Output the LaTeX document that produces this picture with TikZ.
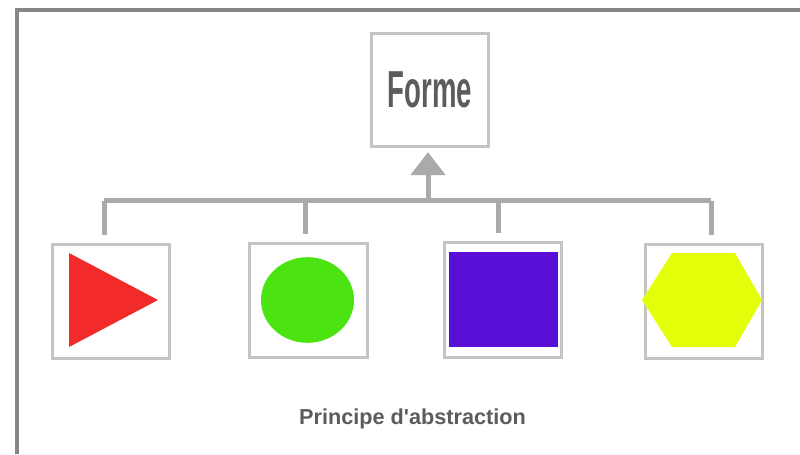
\documentclass[tikz,border=0pt]{standalone}
\usepackage{fontspec}
\setmainfont{Liberation Sans}
\usepackage{graphicx}
\usepackage{xcolor}
\usepackage{tikz}
\usetikzlibrary{arrows.meta,positioning,calc}
\definecolor{cadre}{HTML}{868686}
\definecolor{bord}{HTML}{C4C4C4}
\definecolor{lien}{HTML}{AAAAAA}
\definecolor{texte}{HTML}{5C5C5C}
\definecolor{rouge}{HTML}{F22A2A}
\definecolor{vert}{HTML}{4CE312}
\definecolor{violet}{HTML}{5A0FD6}
\definecolor{jaune}{HTML}{E4FF0A}

\begin{document}
\begin{tikzpicture}[x=0.025cm, y=-0.025cm,
  every node/.style={text=texte, font=\bfseries},
  box/.style={draw=bord, line width=0.075cm, minimum width=2.93cm,
              minimum height=2.85cm, inner sep=0pt},
  conn/.style={draw=lien, line width=0.125cm},
  ar/.style={conn, -{Triangle[width=0.85cm, length=0.575cm]}}]
  \useasboundingbox (0,0) rectangle (800,454);
  \fill[white] (0,0) rectangle (800,454);
  \draw[cadre, line width=0.11cm] (17,454) -- (17,10) -- (800,10);
  % classe abstraite
  \node[box, minimum height=2.83cm] (forme) at (430,90)
    {\scalebox{0.53}[1]{\fontsize{37}{40}\selectfont Forme}};
  % formes concretes
  \node[box] (tri) at (111,301.5) {};
  \node[box] (cercle) at (308.5,300.5) {};
  \node[box] (carre) at (503,300) {};
  \node[box] (hexa) at (704,301.5) {};
  \fill[rouge] (69,253) -- (158,300) -- (69,347) -- cycle;
  \fill[vert] (307.5,300) ellipse [x radius=1.1625cm, y radius=1.07cm];
  \fill[violet] (449,252) rectangle (558,347);
  \fill[jaune] (642,300) -- (672,253) -- (735,253) -- (762,300)
    -- (735,347) -- (672,347) -- cycle;
  % liens
  \coordinate (bar) at (428,200.5);
  \coordinate (j1) at (104,200.5);
  \coordinate (j2) at (305,200.5);
  \coordinate (j3) at (498,200.5);
  \coordinate (j4) at (711,200.5);
  \draw[conn] (j1) -- (j4);
  \draw[conn, shorten >=0.2cm] (j1) -- (j1 |- tri.north);
  \draw[conn, shorten >=0.2cm] (j2) -- (j2 |- cercle.north);
  \draw[conn, shorten >=0.2cm] (j3) -- (j3 |- carre.north);
  \draw[conn, shorten >=0.2cm] (j4) -- (j4 |- hexa.north);
  \draw[ar, shorten >=0.1cm] (bar) -- (bar |- forme.south);
  \node[anchor=base, font=\bfseries\fontsize{15.4}{18}\selectfont]
    (titre) at (412.5,424) {Principe d\textquotesingle abstraction};
\end{tikzpicture}
\end{document}
